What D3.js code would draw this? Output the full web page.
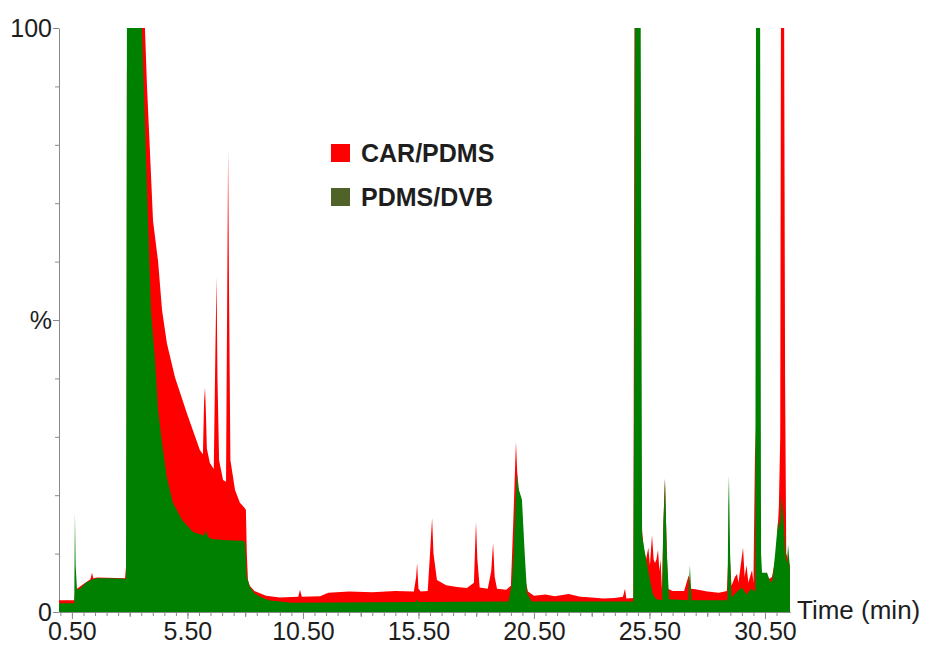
<!DOCTYPE html>
<html>
<head>
<meta charset="utf-8">
<script src="https://cdn.jsdelivr.net/npm/d3@7"></script>
<style>
  body { margin: 0; background: #fff; }
  text { font-family: "Liberation Sans", Arial, sans-serif; fill: #1e1e1e; }
</style>
</head>
<body>
<div id="chart"></div>
<script>
// chromatogram traces, [time (min), intensity (%)]
var carPdms = [
  [-0.06, 2.0], [0.6, 2.0], [0.66, 3.8], [1.0, 4.8], [1.3, 5.6], [1.37, 6.7], [1.42, 5.8],
  [1.6, 5.9], [2.8, 5.8], [2.84, 7.7], [2.87, 7.7], [2.88, 92], [2.9, 100], [3.66, 100],
  [3.75, 89.9], [3.88, 78.6], [4.01, 67], [4.23, 60], [4.4, 51.7], [4.61, 46], [4.96, 40.2],
  [5.48, 34], [6.04, 27.7], [6.17, 27], [6.22, 36], [6.26, 38.5], [6.3, 34], [6.34, 28],
  [6.47, 25.5], [6.64, 24.5], [6.71, 45], [6.76, 57.4], [6.8, 40], [6.87, 26], [7.04, 22.6],
  [7.17, 22.3], [7.23, 60], [7.26, 79], [7.3, 55], [7.36, 26], [7.56, 20.9], [7.77, 18.7],
  [7.94, 18], [8.03, 17.5], [8.07, 10], [8.12, 5.5], [8.2, 4.5], [8.4, 3.6], [8.64, 3.2],
  [8.9, 2.8], [9.5, 2.5], [10.3, 2.6], [10.37, 3.8], [10.45, 2.6], [11.24, 2.7],
  [11.6, 3.3], [12.5, 3.5], [13.5, 3.4], [14.5, 3.6], [15.3, 3.5], [15.4, 6], [15.44, 8.4],
  [15.5, 4], [15.6, 3.5], [15.9, 3.6], [16.0, 10], [16.09, 16.1], [16.15, 10], [16.3, 5.5],
  [16.7, 4.6], [17.17, 4.3], [17.6, 4.1], [17.9, 5], [17.96, 12], [17.99, 15.4], [18.05, 9],
  [18.15, 4.2], [18.5, 4], [18.65, 7], [18.73, 11.8], [18.8, 6], [18.9, 4], [19.3, 3.8],
  [19.5, 4.5], [19.6, 15], [19.72, 29.1], [19.8, 21.4], [19.9, 20], [20.0, 15], [20.1, 6],
  [20.24, 3.5], [20.5, 2.8], [21.0, 3], [21.4, 2.7], [22.0, 3.1], [22.5, 2.6], [23.0, 2.5],
  [23.5, 2.3], [24.0, 2.4], [24.35, 2.6], [24.44, 4], [24.5, 2.3], [24.8, 2.4], [24.83, 60],
  [24.85, 100], [24.97, 100], [25.02, 60], [25.1, 30], [25.18, 14], [25.25, 11], [25.35, 9],
  [25.45, 11], [25.52, 8], [25.61, 13.2], [25.68, 9], [25.74, 8.4], [25.8, 9], [25.87, 10.6],
  [25.93, 7], [25.98, 9], [26.04, 4], [26.1, 15], [26.17, 22.8], [26.22, 15], [26.3, 4],
  [26.5, 3.6], [27.0, 3.6], [27.2, 6.3], [27.3, 4], [27.5, 3.9], [28.0, 3.5], [28.5, 3.3],
  [28.85, 3.6], [28.94, 12], [29.05, 4.5], [29.2, 6], [29.29, 6.5], [29.35, 5], [29.45, 8],
  [29.55, 11], [29.62, 6], [29.7, 8], [29.78, 5], [29.85, 6], [29.94, 7.2], [30.0, 5],
  [30.08, 31.7], [30.2, 12], [30.37, 6], [30.6, 5.5], [30.8, 6], [30.95, 9], [31.02, 12],
  [31.1, 18], [31.16, 30], [31.19, 100], [31.33, 100], [31.37, 40], [31.42, 10], [31.58, 8]
];

var pdmsDvb = [
  [-0.06, 1.5], [0.6, 1.5], [0.63, 17], [0.66, 8], [0.72, 3.8], [0.85, 4], [1.1, 5.0],
  [1.4, 5.6], [1.58, 5.8], [2.0, 5.8], [2.84, 5.7], [2.88, 100], [3.53, 100], [3.66, 83.7],
  [3.79, 67.5], [3.92, 51.7], [4.1, 43], [4.23, 34.6], [4.4, 29], [4.61, 23], [4.87, 18.7],
  [5.26, 15.8], [5.74, 13.7], [6.21, 13.1], [6.3, 13.9], [6.39, 12.8], [6.56, 12.5],
  [7.2, 12.3], [7.9, 12.2], [7.99, 12], [8.07, 6], [8.2, 4.3], [8.4, 3.2], [8.64, 2.6],
  [9.0, 2], [10.0, 1.6], [15.4, 1.7], [15.44, 2.2], [15.5, 1.7], [19.4, 1.8], [19.55, 5],
  [19.62, 10], [19.7, 18.6], [19.77, 23.8], [19.85, 20.9], [19.98, 19.2], [20.1, 10],
  [20.2, 3.2], [20.4, 1.8], [24.8, 1.8], [24.85, 50], [24.87, 100], [25.12, 100], [25.18, 13],
  [25.31, 10], [25.52, 5.5], [25.65, 3], [25.8, 2.2], [26.05, 2.0], [26.1, 15], [26.17, 22.8],
  [26.25, 10], [26.35, 2.2], [27.18, 2.0], [27.25, 8], [27.32, 2], [28.88, 2], [28.91, 18],
  [28.94, 23.4], [28.99, 10], [29.05, 2.5], [29.3, 3.5], [29.5, 4.2], [29.7, 3], [29.9, 4],
  [30.08, 3.5], [30.11, 100], [30.29, 100], [30.33, 10], [30.37, 6.7], [30.59, 6.7],
  [30.7, 5.5], [30.81, 5], [30.94, 10], [31.07, 15.8], [31.15, 14], [31.22, 20], [31.3, 16],
  [31.4, 9], [31.45, 8.4], [31.5, 11.5], [31.55, 9], [31.58, 7]
];

var xTickLabels = [0.5, 5.5, 10.5, 15.5, 20.5, 25.5, 30.5];
var yTickLabels = [0, 50, 100];
var seriesNames = ["CAR/PDMS", "PDMS/DVB"];

var width = 925, height = 646;

var svg = d3.select("#chart")
  .append("svg")
    .attr("width", width)
    .attr("height", height);

var x = d3.scaleLinear()
  .domain([-0.06, 31.6])
  .range([59, 790.4]);

var y = d3.scaleLinear()
  .domain([0, 100])
  .range([612, 28]);

// minor / medium / major ticks on x
var minorX = d3.range(0, 31.01, 0.5);
var midX = d3.range(3, 31, 5);

svg.append("g")
  .attr("transform", "translate(0,612)")
  .call(d3.axisBottom(x).tickValues(minorX).tickSize(4).tickSizeOuter(0).tickFormat(""))
  .call(function(g) { g.selectAll("line, path").attr("stroke", "#8a8a8a"); });
svg.append("g")
  .attr("transform", "translate(0,612)")
  .call(d3.axisBottom(x).tickValues(midX).tickSize(5).tickSizeOuter(0).tickFormat(""))
  .call(function(g) { g.select(".domain").remove(); g.selectAll("line").attr("stroke", "#8a8a8a"); });
svg.append("g")
  .attr("transform", "translate(0,612)")
  .call(d3.axisBottom(x).tickValues(xTickLabels).tickSize(7).tickPadding(3).tickFormat(d3.format(".2f")))
  .call(function(g) {
    g.select(".domain").remove();
    g.selectAll("line").attr("stroke", "#8a8a8a");
    g.selectAll("text").style("font-size", "25px").style("font-family", "Liberation Sans, Arial, sans-serif").attr("fill", "#1e1e1e");
  });

// y axis
svg.append("g")
  .attr("transform", "translate(59,0)")
  .call(d3.axisLeft(y).tickValues(d3.range(10, 100, 10)).tickSize(4).tickSizeOuter(0).tickFormat(""))
  .call(function(g) { g.selectAll("line, path").attr("stroke", "#8a8a8a"); });
svg.append("g")
  .attr("transform", "translate(59,0)")
  .call(d3.axisLeft(y).tickValues(yTickLabels).tickSize(6).tickPadding(1)
    .tickFormat(function(d) { return d === 50 ? "%" : d; }))
  .call(function(g) {
    g.select(".domain").remove();
    g.selectAll("line").attr("stroke", "#8a8a8a");
    g.selectAll("text").style("font-size", "25px").style("font-family", "Liberation Sans, Arial, sans-serif").attr("fill", "#1e1e1e");
  });

var area = d3.area()
  .x(function(d) { return x(d[0]); })
  .y0(y(0))
  .y1(function(d) { return y(d[1]); });

svg.append("path")
  .datum(carPdms)
  .attr("fill", "#ff0000")
  .attr("d", area);

svg.append("path")
  .datum(pdmsDvb)
  .attr("fill", "#008000")
  .attr("d", area);

svg.append("text")
  .attr("x", 797)
  .attr("y", 619)
  .style("font-size", "26px")
  .text("Time (min)");

// legend
var legendColors = ["#ff0000", "#4f6228"];
var legend = svg.selectAll(".legend")
  .data(seriesNames)
  .enter().append("g")
    .attr("transform", function(d, i) { return "translate(331," + (144 + i * 44) + ")"; });
legend.append("rect")
  .attr("width", 19)
  .attr("height", 18)
  .attr("fill", function(d, i) { return legendColors[i]; });
legend.append("text")
  .attr("x", 30)
  .attr("y", 18)
  .style("font-size", "25px")
  .style("font-weight", "bold")
  .attr("fill", "#000")
  .text(function(d) { return d; });
</script>
</body>
</html>
